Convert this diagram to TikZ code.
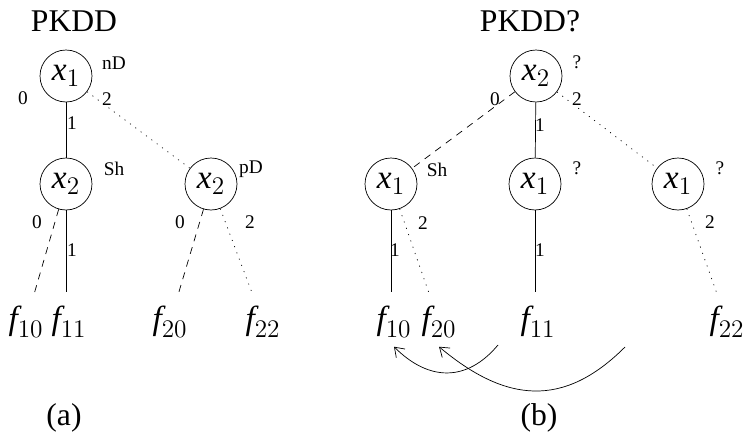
\documentclass[tikz,border=0pt]{standalone}
\usepackage{fontspec}
\setmainfont{Liberation Serif}
\usetikzlibrary{arrows.meta}

\begin{document}
\begin{tikzpicture}[
    x=0.02cm, y=-0.02cm,
    var/.style={circle, draw, thin, minimum size=1.04cm, inner sep=0pt, font=\fontsize{19}{22}\selectfont},
    leaf/.style={inner sep=1pt, outer ysep=7pt, font=\fontsize{19}{22}\selectfont},
    ann/.style={inner sep=0pt, font=\fontsize{11}{13}\selectfont},
    title/.style={inner sep=0pt, font=\fontsize{18}{21}\selectfont},
    zeroedge/.style={thin, dash pattern=on 4pt off 3.5pt},
    oneedge/.style={thin},
    twoedge/.style={thin, dash pattern=on 0.6pt off 3.2pt},
    move/.style={thin, -{Straight Barb[length=5pt,width=7pt]}}
]
\useasboundingbox (0,0) rectangle (746,433);

% === (a): the PKDD ===
\node[title] (ta) at (74,21) {PKDD};

\node[var] (lx1) at (66,76) {$\textit{x}_1$};
\node[var] (lx2a) at (66,184) {$\textit{x}_2$};
\node[var] (lx2b) at (211,184) {$\textit{x}_2$};

\node[ann] (ln1) at (114,63) {nD};
\node[ann] (ln2) at (114,169) {Sh};
\node[ann] (ln3) at (251,169) {pD};

\node[ann] (le10) at (23,98) {0};
\node[ann] (le11) at (72,123) {1};
\node[ann] (le12) at (107,99) {2};
\node[ann] (le20) at (37,222) {0};
\node[ann] (le21) at (72,250) {1};
\node[ann] (le30) at (180,222) {0};
\node[ann] (le32) at (250,222) {2};

\node[leaf] (lf10) at (26,322) {$\textit{f}_{10}$};
\node[leaf] (lf11) at (69,322) {$\textit{f}_{11}$};
\node[leaf] (lf20) at (170,322) {$\textit{f}_{20}$};
\node[leaf] (lf22) at (263,322) {$\textit{f}_{22}$};

\draw[oneedge] (lx1) -- (lx2a);
\draw[twoedge] (lx1) -- (lx2b);
\draw[zeroedge] (lx2a) -- (lf10);
\draw[oneedge] (lx2a) -- (lx2a |- lf11.north);
\draw[zeroedge] (lx2b) -- (lf20);
\draw[twoedge] (lx2b) -- (lf22);

\node[title] (ca) at (64,418) {(a)};

% === (b): the reordered diagram ===
\node[title] (tb) at (530,21) {PKDD?};

\node[var] (rx2) at (536,76) {$\textit{x}_2$};
\node[var] (rx1a) at (391,184) {$\textit{x}_1$};
\node[var] (rx1b) at (535,184) {$\textit{x}_1$};
\node[var] (rx1c) at (678,184) {$\textit{x}_1$};

\node[ann] (rn1) at (577,62) {?};
\node[ann] (rn2) at (437,170) {Sh};
\node[ann] (rn3) at (577,168) {?};
\node[ann] (rn4) at (720,168) {?};

\node[ann] (re10) at (495,99) {0};
\node[ann] (re11) at (540,125) {1};
\node[ann] (re12) at (577,99) {2};
\node[ann] (re21) at (395,250) {1};
\node[ann] (re22) at (423,223) {2};
\node[ann] (re31) at (540,250) {1};
\node[ann] (re42) at (710,222) {2};

\node[leaf] (rf10) at (394,322) {$\textit{f}_{10}$};
\node[leaf] (rf20) at (439,322) {$\textit{f}_{20}$};
\node[leaf] (rf11) at (538,322) {$\textit{f}_{11}$};
\node[leaf] (rf22) at (727,322) {$\textit{f}_{22}$};

\draw[zeroedge] (rx2) -- (rx1a);
\draw[oneedge] (rx2) -- (rx1b);
\draw[twoedge] (rx2) -- (rx1c);
\draw[oneedge] (rx1a) -- (rx1a |- rf10.north);
\draw[twoedge] (rx1a) -- (rf20);
\draw[oneedge] (rx1b) -- (rx1b |- rf11.north);
\draw[twoedge] (rx1c) -- (rf22);

% moves of the leaves
\coordinate (s1) at (498,345);
\coordinate (s2) at (625,347);
\draw[move] (s1) to[out=-130, in=-45, looseness=1.2] ([yshift=3pt]rf10.south);
\draw[move] (s2) to[out=-135, in=-40, looseness=1.2] ([yshift=3pt]rf20.south);

\node[title] (cb) at (539,418) {(b)};
\end{tikzpicture}
\end{document}
